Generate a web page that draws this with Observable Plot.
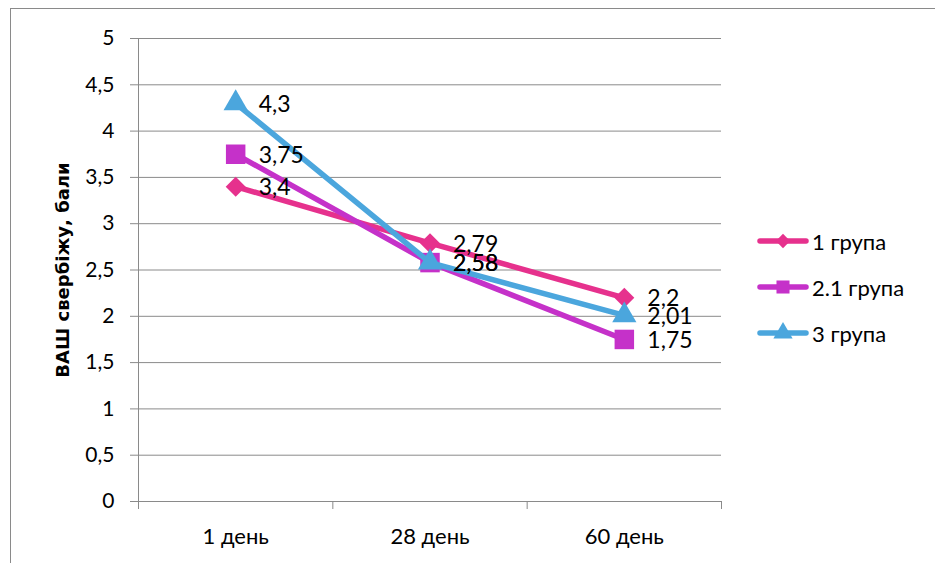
<!DOCTYPE html>
<html>
<head>
<meta charset="utf-8">
<script src="https://cdn.jsdelivr.net/npm/d3@7"></script>
<script src="https://cdn.jsdelivr.net/npm/@observablehq/plot@0.6"></script>
<style>
  html, body { margin: 0; padding: 0; background: #fff; }
  body { width: 935px; height: 563px; position: relative; overflow: hidden; font-family: Lato, "Open Sans", sans-serif; }
  #frame { position: absolute; left: 10px; top: 8px; width: 940px; height: 570px; border: 1.5px solid #8a8a8a; box-sizing: border-box; }
  #chart { position: absolute; left: 0; top: 0; }
  #ytitle { position: absolute; left: 62px; top: 270px; transform: translate(-50%, -50%) rotate(-90deg); font-family: "DejaVu Sans", sans-serif; font-weight: bold; font-size: 18px; white-space: nowrap; color: #000; }
  #legend { position: absolute; left: 757px; top: 228px; }
  .row { display: flex; align-items: center; height: 26px; margin-bottom: 20px; font-size: 22px; color: #000; }
  .row svg { margin-right: 3px; }
</style>
</head>
<body>
<div id="frame"></div>
<div id="chart"></div>
<div id="ytitle">ВАШ свербіжу, бали</div>
<div id="legend"></div>
<script>
// Time points and groups
const days = ["1 день", "28 день", "60 день"];
const groups = ["1 група", "2.1 група", "3 група"];
// Itch VAS scores per group
const group1 = [3.4, 2.79, 2.2];
const group21 = [3.75, 2.58, 1.75];
const group3 = [4.3, 2.58, 2.01];
const yTicks = [0, 0.5, 1, 1.5, 2, 2.5, 3, 3.5, 4, 4.5, 5];

const colors = ["#E6318D", "#C531C9", "#4BA6DD"];
const symbols = ["diamond2", "square", "triangle"];
const radii = [9, 11, 9];
const seriesValues = [group1, group21, group3];

const rows = [];
seriesValues.forEach((vals, s) => {
  vals.forEach((v, i) => rows.push({group: groups[s], s, i, pos: i + 0.5, day: days[i], value: v}));
});
const fmt = v => String(v).replace(".", ",");

const marks = [
  Plot.gridY(yTicks, {stroke: "#8a8a8a", strokeOpacity: 1, strokeWidth: 1}),
  Plot.axisY(yTicks, {tickSize: 8, tickPadding: 16, tickFormat: fmt, stroke: "#8a8a8a", label: null, fontSize: 21}),
  Plot.ruleX([0], {y1: 0, y2: 5, stroke: "#8a8a8a"}),
  Plot.ruleY([0], {stroke: "#8a8a8a"}),
  Plot.axisX([0, 1, 2, 3], {tickSize: 8, tickFormat: () => "", stroke: "#8a8a8a", label: null}),
  Plot.axisX([0.5, 1.5, 2.5], {tickSize: 0, tickPadding: 27, tickFormat: d => days[d - 0.5], label: null, fontSize: 22})
];

groups.forEach((g, s) => {
  const data = rows.filter(r => r.s === s);
  marks.push(
    Plot.line(data, {x: "pos", y: "value", stroke: colors[s], strokeWidth: 5.5, strokeLinejoin: "round"}),
    Plot.dot(data, {x: "pos", y: "value", symbol: symbols[s], r: radii[s], fill: colors[s], stroke: "none"})
  );
});
marks.push(
  Plot.text(rows, {x: "pos", y: "value", text: d => fmt(d.value), textAnchor: "start", dx: 23, dy: 1, fontSize: 23, fill: "#000"})
);

const chart = Plot.plot({
  width: 935,
  height: 563,
  marginLeft: 138,
  marginRight: 214,
  marginTop: 38,
  marginBottom: 62,
  style: {fontFamily: "Lato, 'Open Sans', sans-serif", fontSize: "21px", color: "#000", background: "transparent"},
  x: {type: "linear", domain: [0, 3], axis: null},
  y: {domain: [0, 5], axis: null},
  marks
});
document.getElementById("chart").appendChild(chart);

// Legend
const legend = d3.select("#legend");
groups.forEach((g, s) => {
  const row = legend.append("div").attr("class", "row");
  const svg = row.append("svg").attr("width", 52).attr("height", 24);
  svg.append("line").attr("x1", 3).attr("x2", 49).attr("y1", 12).attr("y2", 12)
    .attr("stroke", colors[s]).attr("stroke-width", 5.5).attr("stroke-linecap", "round");
  const sym = {diamond2: d3.symbolDiamond2, square: d3.symbolSquare, triangle: d3.symbolTriangle}[symbols[s]];
  const size = [130, 170, 160][s];
  svg.append("path").attr("d", d3.symbol(sym, size)()).attr("transform", "translate(26,12)").attr("fill", colors[s]);
  row.append("span").text(g);
});
</script>
</body>
</html>
